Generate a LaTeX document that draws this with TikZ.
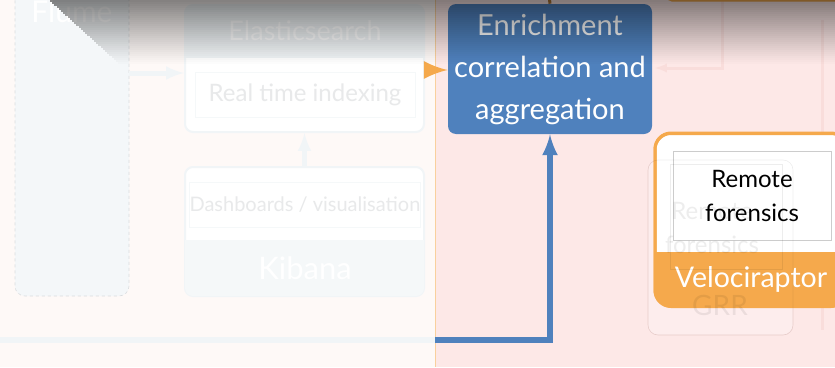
\documentclass[tikz,border=0pt]{standalone}
\usepackage{fontspec}
\setmainfont{Lato}
\usetikzlibrary{positioning}

\definecolor{leftbg}{HTML}{FEF9F7}
\definecolor{rightbg}{HTML}{FDE8E7}
\definecolor{enrich}{HTML}{4F81BD}
\definecolor{velo}{HTML}{F5A94C}
\definecolor{ghost}{HTML}{F1F5F7}
\definecolor{ghostpink}{HTML}{F9DDDB}
\definecolor{fadetext}{HTML}{E8E9EA}

\begin{document}
\begin{tikzpicture}[x=1pt, y=-1pt, semithick,
ghostbox/.style ={draw = ghost, line width = 2pt, fill = white, rounded corners = 8pt, inner sep = 0pt},
innerbox/.style ={draw = #1, fill = white, inner sep = 0pt, align = center},
ghostarrow/.style ={-latex, draw = ghost, line width = 5pt},
title/.style ={text = #1, inner sep = 0pt}]
\useasboundingbox (0,0) rectangle (835,367);
\fill[leftbg] (0,0) rectangle (435,367);
\fill[rightbg] (435,0) rectangle (835,367);
\draw[velo!55, line width = 1pt] (435,0) -- (435,367);

% faded left half
\node[draw = ghost!80!gray, dashed, fill = ghost!80, rounded corners = 10pt, minimum width = 114pt, minimum height = 316pt] (flume) at (72,138) {};
\node[title = white, font = \fontsize{30}{36}\selectfont, anchor = base] (flumetitle) at (72,22) {Flume};

\node[ghostbox, minimum width = 239pt, minimum height = 127pt] (elastic) at (304.5,68.5) {};
\begin{scope}
\clip[rounded corners = 8pt] (185,5) rectangle (424,132);
\fill[ghost] (185,5) rectangle (424,58);
\end{scope}
\node[title = white, font = \fontsize{27}{32}\selectfont] (estitle) at (305,31) {Elasticsearch};
\node[innerbox = ghost!70, minimum width = 220pt, minimum height = 45pt, text = fadetext, font = \fontsize{24}{28}\selectfont] (esindex) at (305,95) {Real time indexing};

\node[ghostbox, minimum width = 239pt, minimum height = 129pt] (kibana) at (304.5,231.5) {};
\begin{scope}
\clip[rounded corners = 8pt] (185,167) rectangle (424,296);
\fill[ghost!70] (185,240) rectangle (424,296);
\end{scope}
\node[title = white, font = \fontsize{31}{36}\selectfont] (kbtitle) at (305,268) {Kibana};
\node[innerbox = ghost!70, minimum width = 220pt, minimum height = 45pt, text = fadetext, font = \fontsize{20}{24}\selectfont] (kbdash) at (305,205) {Dashboards / visualisation};

\coordinate (flumeout) at (129,73);
\coordinate (busstart) at (0,340);
\coordinate (busmid) at (435,340);
\draw[ghostarrow] (flumeout) -- (flumeout -| elastic.west);
\draw[ghostarrow] (kibana.north) -- (elastic.south);
\draw[draw = ghost, line width = 6pt] (busstart) -- (busmid);

% ghost lines on the right
\coordinate (ghosttop) at (722,0);
\draw[-latex, draw = ghostpink, line width = 3pt] (ghosttop) |- (655,68);
\coordinate (ghostrt) at (822,20);
\draw[draw = ghostpink, line width = 3pt] (ghostrt) -- (822,330);
\node[draw = ghostpink, fill = white, fill opacity = .25, rounded corners = 10pt, minimum width = 145pt, minimum height = 175pt] (grr) at (720.5,247.5) {};

% enrichment
\node[fill = enrich, rounded corners = 8pt, minimum width = 204pt, minimum height = 130pt, text = white, align = center, font = \fontsize{29}{42}\selectfont] (enrichbox) at (550,69) {Enrichment\\correlation and\\aggregation};
\coordinate (orangein) at (433,70);
\draw[-latex, draw = velo, line width = 7pt] (orangein) -- (orangein -| enrichbox.west);
\draw[-latex, draw = enrich, line width = 6pt] (busmid) -| (enrichbox.south);
\coordinate (enrichtop) at (549,-5);
\draw[velo!70!black, line width = 3pt] (enrichtop) -- (enrichbox.north);
\coordinate (topbox) at (667,-12);
\draw[velo, line width = 3pt, rounded corners = 5pt] (topbox) |- (845,0);

% velociraptor
\node[draw = velo, line width = 3pt, fill = white, rounded corners = 16pt, minimum width = 192pt, minimum height = 173pt] (velobox) at (751,220) {};
\begin{scope}
\clip[rounded corners = 16pt] (655,133) rectangle (847,306);
\fill[velo] (655,252) rectangle (847,306);
\end{scope}
\draw[velo, line width = 3pt, rounded corners = 16pt] (655,133) rectangle (847,306);
\node[innerbox = gray!40, minimum width = 158pt, minimum height = 89pt, font = \fontsize{24}{34}\selectfont] (veloforensic) at (752,195.5) {Remote\\forensics};
\node[title = white, font = \fontsize{28.5}{32}\selectfont] (velotitle) at (751,279) {Velociraptor};

% ghost of the older box, seen through
\begin{scope}[opacity = .07]
\node[draw = black, rounded corners = 10pt, minimum width = 145pt, minimum height = 175pt] (grrghost) at (720.5,247.5) {};
\node[draw = black, minimum width = 112pt, minimum height = 105pt] (grrinner) at (726,217) {};
\node[align = center, font = \fontsize{24}{34}\selectfont] (grrtext) at (712,228) {Remote\\forensics};
\node[title = black, font = \fontsize{28}{32}\selectfont] (grrtitle) at (720,305) {GRR};
\end{scope}

% top shadow, strip by strip
\foreach \i [evaluate = \i as \op using {0.48*(1-\i/32)^1.1}, evaluate = \i as \xs using {50+2.2*\i}] in {0,...,31}
  \fill[black, opacity = \op] (\xs,2*\i) rectangle (835,2*\i+2);
\end{tikzpicture}
\end{document}
